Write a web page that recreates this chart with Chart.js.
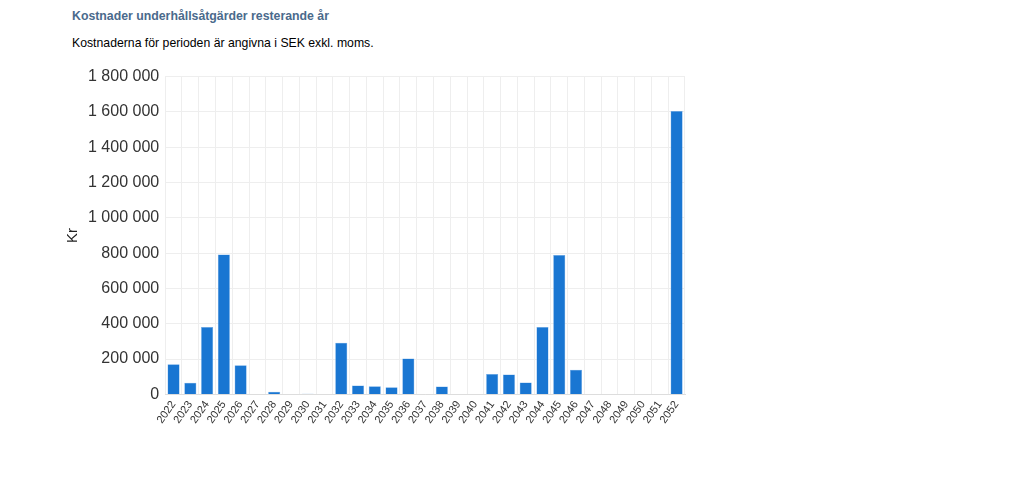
<!DOCTYPE html>
<html><head><meta charset="utf-8">
<script src="https://cdn.jsdelivr.net/npm/chart.js@4"></script>
<style>
body{margin:0;background:#fff;font-family:"Liberation Sans",Arial,sans-serif;width:1024px;height:500px;position:relative;overflow:hidden}
#t{position:absolute;left:72px;top:9px;font-size:12.3px;font-weight:bold;color:#4a6a8c}
#s{position:absolute;left:72px;top:36px;font-size:12.25px;color:#000}
#wrap{position:absolute;left:64px;top:61px;width:640px;height:369px}
</style></head><body>
<div id="t">Kostnader underhållsåtgärder resterande år</div>
<div id="s">Kostnaderna för perioden är angivna i SEK exkl. moms.</div>
<div id="wrap"><canvas id="c"></canvas></div>
<script>
const years=["2022","2023","2024","2025","2026","2027","2028","2029","2030","2031","2032","2033","2034","2035","2036","2037","2038","2039","2040","2041","2042","2043","2044","2045","2046","2047","2048","2049","2050","2051","2052"];
const costs=[170000,66000,381000,792000,165000,0,15000,0,3000,0,293000,51000,46000,40000,203000,0,44000,0,0,115000,112000,68000,381000,790000,140000,0,0,0,0,0,1605000];
const yTicks=[0,200000,400000,600000,800000,1000000,1200000,1400000,1600000,1800000];
const fmt=v=>String(v).replace(/\B(?=(\d{3})+(?!\d))/g,' ');
new Chart(document.getElementById('c'),{
 type:'bar',
 data:{labels:years,datasets:[{data:costs,backgroundColor:'#1976d2',borderColor:'#6aa8e8',borderWidth:0.5}]},
 options:{responsive:true,maintainAspectRatio:false,animation:false,
  layout:{padding:{top:8,right:19}},
  plugins:{legend:{display:false},tooltip:{enabled:false}},
  scales:{
   x:{grid:{color:'#eeeeee',drawTicks:false},border:{color:'#dddddd'},
      ticks:{color:'#333',font:{family:'Liberation Sans',size:11},maxRotation:55,minRotation:55,autoSkip:false,padding:4}},
   y:{min:0,max:1800000,grid:{color:'#eeeeee',drawTicks:false},border:{display:false},
      afterBuildTicks:a=>{a.ticks=yTicks.map(v=>({value:v}));},
      ticks:{color:'#333',font:{family:'Liberation Sans',size:16},padding:6,callback:v=>fmt(v)},
      title:{display:true,text:'Kr',color:'#222',font:{family:'Liberation Sans',size:15},padding:{top:0,bottom:0}}}
  }}
});
</script></body></html>
